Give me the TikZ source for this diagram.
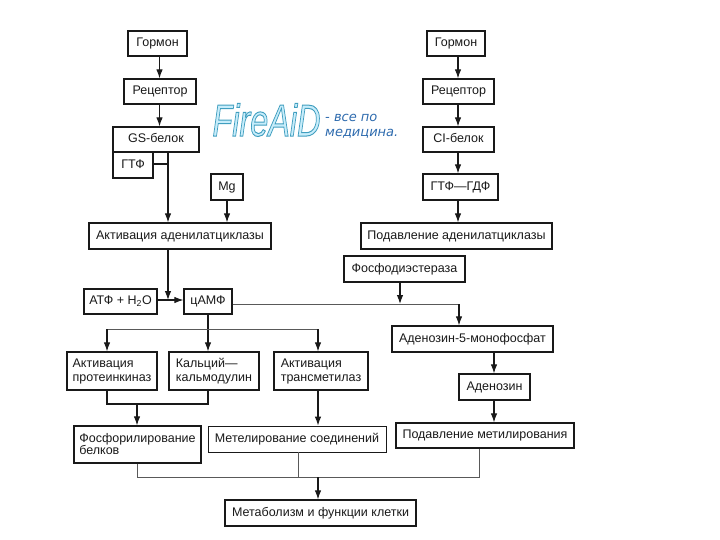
\documentclass[tikz,border=0pt]{standalone}
\usepackage{fontspec}
\setmainfont{Liberation Sans}
\newfontfamily\tagfont{DejaVu Sans}
\usetikzlibrary{calc}
\usetikzlibrary{positioning}
\usetikzlibrary{arrows.meta}
\tikzstyle{listnode} = [draw=black!90, line width=1.2pt, inner sep=0pt, align=left, font=\fontsize{12.5}{14}\selectfont, text=black!90]
\tikzstyle{boxnode} = [listnode, align=center, text height=1.5ex, text depth=.25ex]
\tikzstyle{thinbox} = [line width=0.8pt]
\tikzstyle{arr} = [-{Latex[length=9pt,width=6.5pt]}, draw=black!90, line width=1.1pt]
\tikzstyle{wire} = [draw=black!90, line width=1.1pt]
\tikzstyle{thinwire} = [draw=black!65, line width=0.8pt]
\tikzstyle{logonode} = [inner sep=0pt, font=\fontsize{45}{45}\selectfont\itshape, text=cyan!22]
\tikzstyle{tagnode} = [inner sep=0pt, align=left, font=\fontsize{13}{15}\tagfont\itshape, text=cyan!50!blue!85!black]

\begin{document}
\begin{tikzpicture}[x=1pt, y=-1pt]
    \useasboundingbox (0,0) rectangle (720,540);
    % left branch
    \node[boxnode, minimum width=59pt, minimum height=25pt] (hormone_l) at (157.5,43.5) {Гормон};
    \node[boxnode, minimum width=72pt, minimum height=25pt] (receptor_l) at (160,91.5) {Рецептор};
    \node[boxnode, minimum width=86pt, minimum height=25pt] (gs_prot) at (156,139.5) {GS-белок};
    \node[boxnode, minimum width=40pt, minimum height=26pt] (gtp_l) at (133,165) {ГТФ};
    \node[boxnode, minimum width=32pt, minimum height=26pt] (mg) at (227,187) {Mg};
    \node[boxnode, minimum width=182pt, minimum height=26pt] (act_ac) at (180,236) {Активация аденилатциклазы};

    % right branch
    \node[boxnode, minimum width=58pt, minimum height=25pt] (hormone_r) at (456,43.5) {Гормон};
    \node[boxnode, minimum width=71pt, minimum height=25pt] (receptor_r) at (458.5,91.5) {Рецептор};
    \node[boxnode, minimum width=71pt, minimum height=25pt] (ci_prot) at (458.5,139.5) {CI-белок};
    \node[boxnode, minimum width=75pt, minimum height=26pt] (gtp_gdp) at (460.5,187) {ГТФ—ГДФ};
    \node[boxnode, minimum width=191pt, minimum height=26pt] (sup_ac) at (456.5,236) {Подавление аденилатциклазы};
    \node[boxnode, minimum width=121pt, minimum height=26pt] (pde) at (404.5,269) {Фосфодиэстераза};

    % cAMP row
    \node[boxnode, minimum width=73pt, minimum height=25pt] (atp) at (120.5,301.5) {АТФ + Н\textsubscript{2}О};
    \node[boxnode, minimum width=48pt, minimum height=25pt] (camp) at (208,301.5) {цАМФ};
    \node[boxnode, minimum width=161pt, minimum height=26pt] (amp) at (472.5,339) {Аденозин-5-монофосфат};
    \node[boxnode, minimum width=71pt, minimum height=26pt] (adenosine) at (494.5,387) {Аденозин};

    % effects
    \node[listnode, minimum width=90pt, minimum height=38pt] (act_pk) at (112,371) {Активация\\протеинкиназ};
    \node[listnode, minimum width=90pt, minimum height=38pt] (calm) at (214,371) {Кальций—\\кальмодулин};
    \node[listnode, minimum width=94pt, minimum height=38pt] (act_tm) at (321,371) {Активация\\трансметилаз};
    \node[listnode, minimum width=127pt, minimum height=37pt] (phos) at (137.5,444.5) {Фосфорилирование\\[-2pt]белков};
    \node[boxnode, thinbox, minimum width=178pt, minimum height=26pt] (meth) at (297,439) {Метелирование соединений};
    \node[boxnode, minimum width=178pt, minimum height=25pt] (sup_meth) at (485,435.5) {Подавление метилирования};
    \node[boxnode, minimum width=191pt, minimum height=26pt] (metab) at (320.5,513) {Метаболизм и функции клетки};

    % watermark
    \node[logonode] (logo) at (266.5,120) {\scalebox{0.72}[1]{\special{pdf:code 0.25 0.62 0.75 RG 1 w 2 Tr}FireAiD\special{pdf:code 0 Tr}}};
    \node[tagnode, anchor=west] (tag) at (325,126.5) {- все по\\медицина.};

    % junction columns
    \coordinate (col_a) at (159.5,0);
    \coordinate (col_b) at (168,0);
    \coordinate (col_c) at (458,0);
    \coordinate (col_d) at (208,0);
    \coordinate (col_e) at (107,0);
    \coordinate (col_f) at (318,0);
    \coordinate (col_g) at (137,0);
    \coordinate (col_h) at (494,0);
    \coordinate (col_i) at (400,0);
    \coordinate (col_j) at (459,0);
    \coordinate (col_k) at (298,0);
    \coordinate (col_l) at (479,0);
    \coordinate (row_a) at (0,329);
    \coordinate (row_b) at (0,404);
    \coordinate (row_c) at (0,477);
    \coordinate (row_d) at (0,304);
    \coordinate (row_e) at (0,164);
    \coordinate (row_f) at (0,300);

    % left branch arrows
    \draw[arr] (col_a |- hormone_l.south) -- (col_a |- receptor_l.north);
    \draw[arr] (col_a |- receptor_l.south) -- (col_a |- gs_prot.north);
    \draw[arr] (col_b |- gs_prot.south) -- (col_b |- act_ac.north);
    \draw[wire] (gtp_l.east |- row_e) -- (col_b |- row_e);
    \draw[arr] (mg) -- (mg |- act_ac.north);
    \draw[arr] (col_b |- act_ac.south) -- (col_b |- row_f);
    \draw[arr] (atp.east |- row_f) -- (camp.west |- row_f);

    % right branch arrows
    \draw[arr] (col_c |- hormone_r.south) -- (col_c |- receptor_r.north);
    \draw[arr] (col_c |- receptor_r.south) -- (col_c |- ci_prot.north);
    \draw[arr] (col_c |- ci_prot.south) -- (col_c |- gtp_gdp.north);
    \draw[arr] (col_c |- gtp_gdp.south) -- (col_c |- sup_ac.north);

    % cAMP outputs
    \draw[thinwire] (camp.east |- row_d) -- (col_j |- row_d);
    \draw[arr] (col_j |- row_d) -- (col_j |- amp.north);
    \draw[arr] (col_i |- pde.south) -- (col_i |- row_d);
    \draw[arr] (camp.south) -- (camp |- act_pk.north);
    \draw[thinwire] (col_e |- row_a) -- (col_f |- row_a);
    \draw[arr] (col_e |- row_a) -- (col_e |- act_pk.north);
    \draw[arr] (col_f |- row_a) -- (col_f |- act_tm.north);
    \draw[arr] (col_h |- amp.south) -- (col_h |- adenosine.north);
    \draw[arr] (col_h |- adenosine.south) -- (col_h |- sup_meth.north);

    % lower joins
    \draw[wire] (col_e |- act_pk.south) |- (col_d |- row_b) -- (col_d |- calm.south);
    \draw[arr] (col_g |- row_b) -- (col_g |- phos.north);
    \draw[arr] (col_f |- act_tm.south) -- (col_f |- meth.north);
    \draw[thinwire] (col_g |- phos.south) |- (col_l |- row_c) -- (col_l |- sup_meth.south);
    \draw[thinwire] (col_k |- meth.south) -- (col_k |- row_c);
    \draw[arr] (col_f |- row_c) -- (col_f |- metab.north);
\end{tikzpicture}
\end{document}
